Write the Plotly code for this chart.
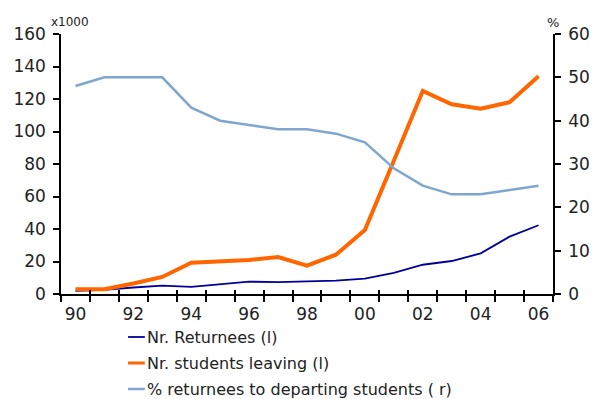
import plotly.graph_objects as go

# Annual series, 1990-2006
years = [str(y) for y in range(1990, 2007)]
year_labels = ["90", "", "92", "", "94", "", "96", "", "98", "", "00", "", "02", "", "04", "", "06"]

returnees = [2.0, 2.5, 4.0, 5.2, 4.4, 6.0, 7.6, 7.3, 7.7, 8.2, 9.4, 13.0, 18.0, 20.3, 25.0, 35.3, 42.3]
students_leaving = [3.0, 3.0, 6.5, 10.5, 19.3, 20.2, 21.0, 22.7, 17.5, 24.2, 39.3, 82.0, 125.0, 116.8, 114.0, 118.0, 134.0]
pct_returnees = [48, 50, 50, 50, 43, 40, 39, 38, 38, 37, 35, 29, 25, 23, 23, 24, 25]

left_ticks = [0, 20, 40, 60, 80, 100, 120, 140, 160]
right_ticks = [0, 10, 20, 30, 40, 50, 60]

series_names = ["Nr. Returnees (l)", "Nr. students leaving (l)", "% returnees to departing students ( r)"]
colors = ["#000099", "#FF6600", "#7FA6CF"]
widths = [1.8, 4, 2.5]

FONT = "DejaVu Sans"
TXT = "#222222"

fig = go.Figure()
fig.add_trace(go.Scatter(x=years, y=returnees, mode="lines", name=series_names[0],
                         line=dict(color=colors[0], width=widths[0]), yaxis="y"))
fig.add_trace(go.Scatter(x=years, y=students_leaving, mode="lines", name=series_names[1],
                         line=dict(color=colors[1], width=widths[1]), yaxis="y"))
fig.add_trace(go.Scatter(x=years, y=pct_returnees, mode="lines", name=series_names[2],
                         line=dict(color=colors[2], width=widths[2]), yaxis="y2"))

axis_common = dict(showline=True, linecolor="black", linewidth=1.5, ticks="outside",
                   ticklen=6, tickwidth=1.5, tickcolor="black", showgrid=False, zeroline=False,
                   tickangle=0, tickfont=dict(family=FONT, size=17, color=TXT))

x_cats = dict(type="category", categoryorder="array", categoryarray=years,
              tickmode="array", tickvals=years, tickson="boundaries",
              range=[-0.5, len(years) - 0.5])

fig.update_layout(
    width=602, height=399,
    margin=dict(l=61, r=42, t=34, b=105),
    paper_bgcolor="white", plot_bgcolor="white",
    showlegend=False,
    xaxis=dict(ticktext=year_labels, ticklabelstandoff=4, **x_cats, **axis_common),
    # upper half of the crossing year ticks
    xaxis2=dict(overlaying="x", anchor="y", side="bottom", ticks="inside", ticklen=4,
                tickwidth=1.5, tickcolor="black", showticklabels=False, showline=False,
                showgrid=False, zeroline=False, **x_cats),
    yaxis=dict(range=[0, 160], tickvals=left_ticks, ticklabelstandoff=4, **axis_common),
    yaxis2=dict(range=[0, 60], tickvals=right_ticks, overlaying="y", side="right",
                ticklabelstandoff=4, **axis_common),
)

fig.add_trace(go.Scatter(x=years, y=returnees, xaxis="x2", yaxis="y", mode="lines",
                         line=dict(width=0, color="rgba(0,0,0,0)"), hoverinfo="skip",
                         showlegend=False))


def px_to_paper(xpx, ypx):
    return (xpx - 61) / 499, 1 - (ypx - 34) / 260


# Unit labels above the axes
for text, xpx, ypx, size in [("x1000", 70, 22, 12), ("%", 560, 23, 13)]:
    xp, yp = px_to_paper(xpx, ypx)
    fig.add_annotation(text=text, x=xp, y=yp, xref="paper", yref="paper", showarrow=False,
                       xanchor="center", yanchor="middle",
                       font=dict(family=FONT, size=size, color=TXT))

# Legend drawn below the plot with short line keys
legend_x0, legend_x1 = 129, 146
legend_rows = [337, 363, 389]
for name, col, w, ypx in zip(series_names, colors, widths, legend_rows):
    xa, yp = px_to_paper(legend_x0, ypx)
    xb, _ = px_to_paper(legend_x1, ypx)
    fig.add_shape(type="line", xref="paper", yref="paper", x0=xa, x1=xb, y0=yp, y1=yp,
                  line=dict(color=col, width=min(w, 3)))
    fig.add_annotation(text=name, x=xb, y=yp, xref="paper", yref="paper",
                       xanchor="left", yanchor="middle", showarrow=False,
                       font=dict(family=FONT, size=16, color=TXT))

fig.write_html("out.html")
